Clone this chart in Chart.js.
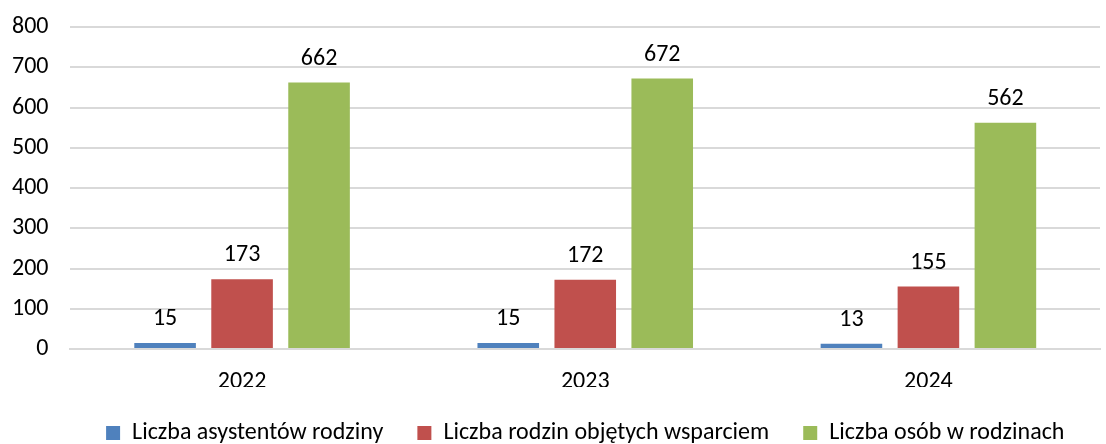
<!DOCTYPE html>
<html>
<head>
<meta charset="utf-8">
<script src="https://cdn.jsdelivr.net/npm/chart.js@4"></script>
<style>
  html, body { margin: 0; padding: 0; background: #fff; }
  #wrap { width: 1106px; height: 444px; }
</style>
</head>
<body>
<div id="wrap"><canvas id="chart" width="1106" height="444"></canvas></div>
<script>
const years = ['2022', '2023', '2024'];
const asystenci = [15, 15, 13];
const rodziny = [173, 172, 155];
const osoby = [662, 672, 562];
const yTicks = [0, 100, 200, 300, 400, 500, 600, 700, 800];

const FONT = 'Carlito, "Open Sans", "Noto Sans", sans-serif';

// labels over the bars
const valueLabels = {
    id: 'valueLabels',
    afterDatasetsDraw(chart) {
        const ctx = chart.ctx;
        ctx.save();
        ctx.font = '24px ' + FONT;
        ctx.fillStyle = '#000';
        ctx.textAlign = 'center';
        ctx.textBaseline = 'alphabetic';
        chart.data.datasets.forEach(function(ds, i) {
            chart.getDatasetMeta(i).data.forEach(function(bar, j) {
                ctx.fillText(String(ds.data[j]), bar.x, bar.y - 18);
            });
        });
        ctx.restore();
    }
};

const data = {
    labels: years,
    datasets: [
        { label: 'Liczba asystentów rodziny', data: asystenci, backgroundColor: '#4F81BD' },
        { label: 'Liczba rodzin objętych wsparciem', data: rodziny, backgroundColor: '#C0504D' },
        { label: 'Liczba osób w rodzinach', data: osoby, backgroundColor: '#9BBB59' }
    ]
};

const config = {
    type: 'bar',
    data: data,
    options: {
        responsive: false,
        animation: false,
        categoryPercentage: 0.673,
        barPercentage: 0.8,
        layout: { padding: { top: 3, right: 6, left: -10, bottom: -11 } },
        plugins: {
            tooltip: { enabled: false },
            legend: {
                position: 'bottom',
                fullSize: false,
                labels: {
                    font: { size: 24, family: FONT },
                    color: '#000',
                    boxWidth: 14,
                    boxHeight: 14,
                    padding: 34
                }
            }
        },
        scales: {
            x: {
                clip: false,
                grid: { display: false },
                border: { color: '#d9d9d9', width: 2 },
                ticks: { font: { size: 24, family: FONT }, color: '#000', padding: 11 },
                afterFit: function(scale) { scale.height = 38; }
            },
            y: {
                clip: false,
                min: 0,
                max: 800,
                afterBuildTicks: function(axis) {
                    axis.ticks = yTicks.map(function(v) { return { value: v }; });
                },
                afterFit: function(scale) { scale.paddingTop = 27; },
                grid: { color: '#d9d9d9', lineWidth: 2, drawTicks: false },
                border: { display: false },
                ticks: { font: { size: 24, family: FONT }, color: '#000', padding: 22 }
            }
        }
    },
    plugins: [valueLabels]
};

new Chart(document.getElementById('chart'), config);
</script>
</body>
</html>
